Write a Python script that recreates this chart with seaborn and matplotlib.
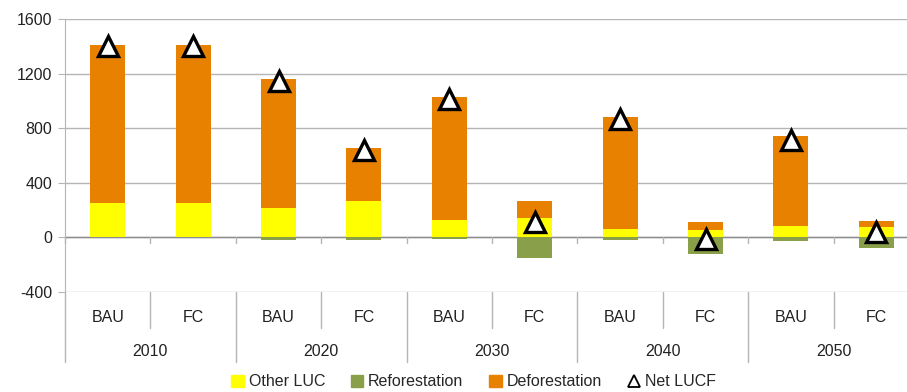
import numpy as np
import pandas as pd
import matplotlib
matplotlib.use('Agg')
import matplotlib.pyplot as plt
import seaborn as sns
from matplotlib.patches import Patch
from matplotlib.lines import Line2D
import matplotlib.transforms as mtransforms

# data
years = ['2010', '2020', '2030', '2040', '2050']
scenarios = ['BAU', 'FC']
other_luc = [255, 255, 213, 266, 130, 145, 61, 56, 81, 76]
reforestation = [0, 0, -17, -17, -15, -154, -17, -120, -27, -81]
deforestation = [1156, 1156, 949, 392, 902, 121, 822, 54, 660, 41]
net_lucf = [1400, 1400, 1145, 641, 1017, 112, 866, -10, 714, 36]

# colours
yellow = '#FFFF00'
green = '#8A9F4A'
orange = '#E88000'
grid = '#B5B5B5'

sns.set_style('white')
plt.rcParams['font.family'] = ['Liberation Sans']
plt.rcParams['axes.unicode_minus'] = False

keys = ['{} {}'.format(y, s) for y in years for s in scenarios]
df = pd.DataFrame({'key': keys, 'other': other_luc, 'refor': reforestation,
                   'defor': deforestation, 'net': net_lucf})
df['top'] = df['other'] + df['defor']

fig = plt.figure(figsize=(9.07, 3.92), dpi=100)
ax = fig.add_axes([65 / 907, 100 / 392, 854 / 907, 273 / 392])

bar_kws = dict(x='key', order=keys, width=0.41, ax=ax, linewidth=0,
               saturation=1, zorder=2)
sns.barplot(data=df, y='top', color=orange, **bar_kws)
sns.barplot(data=df, y='other', color=yellow, **bar_kws)
sns.barplot(data=df, y='refor', color=green, **bar_kws)
sns.pointplot(data=df, x='key', y='net', order=keys, ax=ax, errorbar=None,
              linestyle='none', markers='^', color='black',
              markerfacecolor='white', markersize=14, markeredgewidth=2.4,
              zorder=5)

ax.set_ylim(-400, 1600)
ax.set_xlim(-0.5, len(keys) - 0.5)
ax.set_yticks(range(-400, 1601, 400))
ax.yaxis.grid(True, color=grid, linewidth=1)
ax.set_axisbelow(True)
for s in ['top', 'right', 'bottom']:
    ax.spines[s].set_visible(False)
ax.spines['left'].set_color(grid)
ax.axhline(0, color='#8C8C8C', linewidth=1, zorder=1)
ax.tick_params(axis='y', length=5, color=grid, labelsize=11.5, pad=4,
               left=True, labelcolor='#222222')
ax.set_xlabel('')
ax.set_ylabel('')
ax.set_xticks([])

# two-level category axis
trans = mtransforms.blended_transform_factory(ax.transData, ax.transAxes)
lo1 = -36 / 273
lo2 = -70 / 273
for i in range(len(keys) + 1):
    xe = i - 0.5
    y_end = lo2 if i % 2 == 0 else lo1
    ax.plot([xe, xe], [0, y_end], transform=trans, color=grid, lw=1,
            clip_on=False)
    # small tick marks on the zero line
    ax.plot([xe, xe], [0, -44], color=grid, lw=1, clip_on=False, zorder=1)
for i, k in enumerate(keys):
    ax.text(i, -25 / 273, k.split()[1], transform=trans, ha='center',
            va='center', fontsize=11.5, color='#222222')
for j, y in enumerate(years):
    ax.text(2 * j + 0.5, -60 / 273, y, transform=trans, ha='center',
            va='center', fontsize=11.5, color='#222222')

handles = [Patch(color=yellow, label='Other LUC'),
           Patch(color=green, label='Reforestation'),
           Patch(color=orange, label='Deforestation'),
           Line2D([], [], marker='^', linestyle='none', color='black',
                  markerfacecolor='white', markersize=8, markeredgewidth=1.3,
                  label='Net LUCF')]
fig.legend(handles=handles, loc='center', bbox_to_anchor=(0.522, 10 / 392),
           ncol=4, frameon=False, fontsize=11.5, handlelength=0.8,
           handleheight=0.8, handletextpad=0.3, columnspacing=1.6)

fig.savefig('out.png', dpi=100)
